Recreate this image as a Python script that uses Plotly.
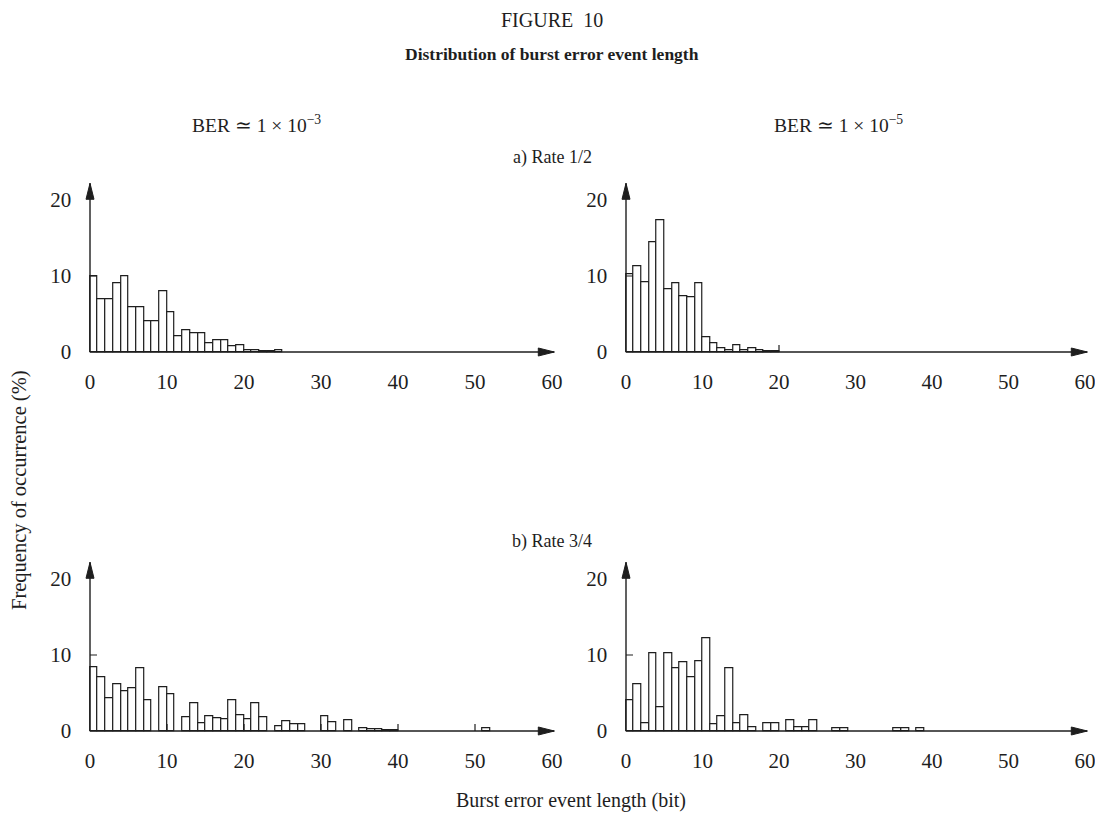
import plotly.graph_objects as go

# ---------------- data ----------------
x_tick_vals = [0, 10, 20, 30, 40, 50, 60]
y_tick_vals = [0, 10, 20]

# frequency of occurrence (%) for burst length bins 0,1,2,... (bit)
rate12_ber3 = [10.0, 7.0, 7.0, 9.0, 10.0, 5.9, 5.9, 4.0, 4.0, 8.0, 5.3, 2.1, 2.9, 2.5, 2.5,
               1.1, 1.5, 1.6, 0.75, 0.85, 0.3, 0.3, 0.15, 0.15, 0.2]
rate12_ber5 = [10.2, 11.3, 9.2, 14.4, 17.4, 8.3, 9.1, 7.3, 7.2, 9.1, 2.0, 1.1, 0.45, 0.3,
               0.9, 0.3, 0.55, 0.3, 0.15, 0.15]
rate34_ber3 = [8.4, 7.1, 4.3, 6.1, 5.2, 5.6, 8.2, 4.0, 0, 5.8, 4.9, 0, 1.85, 3.7, 1.05,
               2.0, 1.75, 1.6, 4.1, 2.1, 1.6, 3.6, 1.85, 0, 0.57, 1.3, 0.83, 0.83, 0, 0,
               1.9, 1.1, 0, 1.36, 0, 0.35, 0.2, 0.25, 0.17, 0.17, 0, 0, 0, 0, 0, 0, 0,
               0, 0, 0, 0, 0.35]
rate34_ber5 = [4.1, 6.1, 1.05, 10.2, 3.1, 10.2, 8.2, 9.1, 7.1, 9.2, 12.2, 0.9, 2.0, 8.2,
               1.0, 2.1, 0.5, 0, 1.0, 1.0, 0, 1.4, 0.45, 0.5, 1.36, 0, 0, 0.35, 0.35, 0,
               0, 0, 0, 0, 0, 0.35, 0.35, 0, 0.35]

column_titles = ["BER ≃ 1 × 10<sup>−3</sup>", "BER ≃ 1 × 10<sup>−5</sup>"]
row_titles = ["a) Rate 1/2", "b) Rate 3/4"]
x_title = "Burst error event length (bit)"
y_title = "Frequency of occurrence (%)"
fig_number = "FIGURE  10"
fig_title = "Distribution of burst error event length"

# small x tick marks seen in the reference
x_marks = {0: [], 1: [20], 2: [10, 20, 30, 40, 50], 3: []}

# ---------------- geometry ----------------
OFF = 8                      # page body margin around the figure
W, H = 1103 - OFF, 813 - OFF
FONT = "Liberation Serif"
INK = "#1e1e1e"
PX_Y = 7.6           # pixels per percent
X_LO, X_MAX = -1.0, 61.0
Y_LO, Y_MAX = -1.0, 23.0
X_ARROW = 60.3
Y_ARROW = 22.2
origins = [(90, 352), (626, 352), (90, 731), (626, 731)]  # screen pixel of (0,0)
px_per_bit = [7.7, 7.65, 7.7, 7.65]
series = [rate12_ber3, rate12_ber5, rate34_ber3, rate34_ber5]

fig = go.Figure()
layout_axes = {}
shapes = []

for i, (vals, (sx, sy), pxx) in enumerate(zip(series, origins, px_per_bit)):
    ox, oy = sx - OFF, sy - OFF
    n = "" if i == 0 else str(i + 1)
    xa, ya = "x" + n, "y" + n
    xs = [k + 0.5 for k, v in enumerate(vals) if v > 0]
    ys = [v for v in vals if v > 0]
    fig.add_trace(go.Bar(
        x=xs, y=ys, width=1.0, xaxis=xa, yaxis=ya,
        marker=dict(color="white", line=dict(color=INK, width=1.2)),
        showlegend=False, hoverinfo="x+y"))

    xdom = [(ox + X_LO * pxx) / W, min(1.0, (ox + X_MAX * pxx) / W)]
    ydom = [1 - (oy - Y_LO * PX_Y) / H, 1 - (oy - Y_MAX * PX_Y) / H]
    x_hi = X_LO + (xdom[1] - xdom[0]) * W / pxx
    layout_axes["xaxis" + n] = dict(
        domain=xdom, range=[X_LO, x_hi], anchor=ya, showgrid=False, zeroline=False,
        showline=False, tickvals=x_tick_vals, ticks="", automargin=False,
        ticklabelstandoff=7,
        tickfont=dict(family=FONT, size=21, color=INK), fixedrange=True)
    layout_axes["yaxis" + n] = dict(
        domain=ydom, range=[Y_LO, Y_MAX], anchor=xa, showgrid=False, zeroline=False,
        showline=False, tickvals=y_tick_vals, ticks="", automargin=False,
        ticklabelstandoff=10,
        tickfont=dict(family=FONT, size=21, color=INK), fixedrange=True)

    # axis lines
    shapes.append(dict(type="line", xref=xa, yref=ya, x0=0, x1=X_ARROW, y0=0, y1=0,
                       line=dict(color=INK, width=1.4), layer="above"))
    shapes.append(dict(type="line", xref=xa, yref=ya, x0=0, x1=0, y0=0, y1=Y_ARROW,
                       line=dict(color=INK, width=1.4), layer="above"))
    # arrow heads (pixel-sized)
    shapes.append(dict(type="path", xref=xa, yref=ya, xsizemode="pixel", ysizemode="pixel",
                       xanchor=0, yanchor=Y_ARROW, path="M-4,-16 L4,-16 L0,0 Z",
                       fillcolor=INK, line=dict(color=INK, width=1), layer="above"))
    shapes.append(dict(type="path", xref=xa, yref=ya, xsizemode="pixel", ysizemode="pixel",
                       xanchor=X_ARROW, yanchor=0, path="M-16,-4 L-16,4 L0,0 Z",
                       fillcolor=INK, line=dict(color=INK, width=1), layer="above"))
    # inner tick at y = 10
    shapes.append(dict(type="line", xref=xa, yref=ya, xsizemode="pixel", xanchor=0,
                       x0=0, x1=7, y0=10, y1=10, line=dict(color=INK, width=1.2)))
    for m in x_marks[i]:
        shapes.append(dict(type="line", xref=xa, yref=ya, ysizemode="pixel", yanchor=0,
                           x0=m, x1=m, y0=0, y1=7, line=dict(color=INK, width=1.2),
                           layer="above"))


def ann(text, px, py, size, bold=False, angle=0):
    return dict(text=("<b>%s</b>" % text) if bold else text,
                x=(px - OFF) / W, y=1 - (py - OFF) / H,
                xref="paper", yref="paper", showarrow=False, textangle=angle,
                xanchor="center", yanchor="middle",
                font=dict(family=FONT, size=size, color=INK))


annotations = [
    ann(fig_number, 552, 20, 20),
    ann(fig_title, 552, 54, 17.5, bold=True),
    ann(column_titles[0], 256, 124, 19.5),
    ann(column_titles[1], 838, 124, 19.5),
    ann(row_titles[0], 552, 157, 18),
    ann(row_titles[1], 552, 541, 18),
    ann(y_title, 20, 490, 20.5, angle=-90),
    ann(x_title, 571, 800, 20),
]

fig.update_layout(
    width=W, height=H, margin=dict(l=0, r=0, t=0, b=0, autoexpand=False),
    paper_bgcolor="white", plot_bgcolor="white", bargap=0,
    shapes=shapes, annotations=annotations, showlegend=False,
    **layout_axes)

fig.write_html("out.html")
